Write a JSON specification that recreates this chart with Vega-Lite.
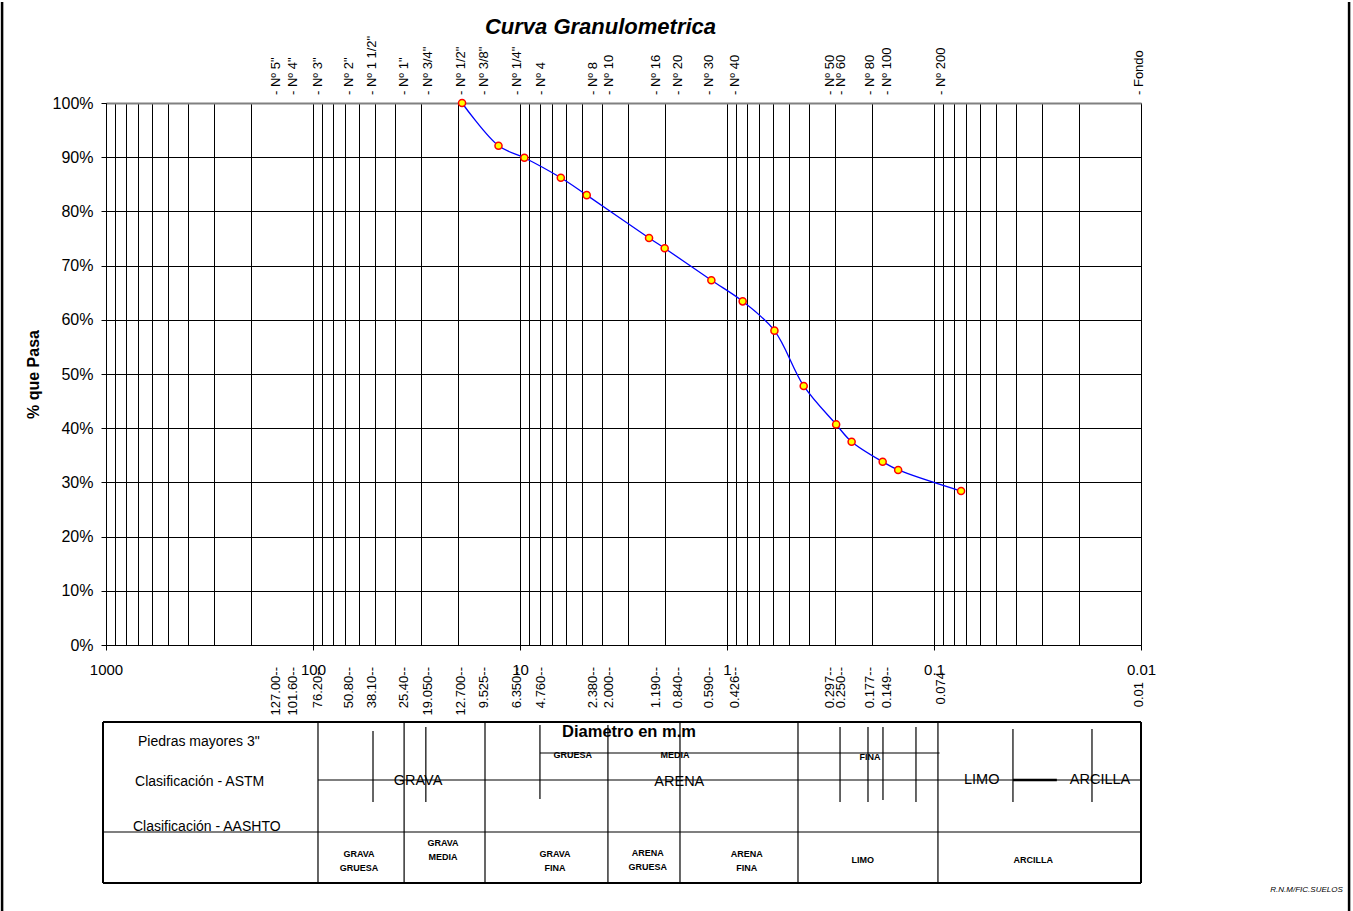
{
  "$schema": "https://vega.github.io/schema/vega-lite/v6.json",
  "padding": {"left": 0, "top": 0, "right": 2, "bottom": 0},
  "background": "white",
  "config": {"font": "Liberation Sans", "view": {"stroke": null}},
  "spacing": 77,
  "bounds": "flush",
  "resolve": {"scale": {"x": "independent", "y": "independent"}},
  "datasets": {
    "tamices": [
      {"tamiz": "- Nº 5\"", "abertura_txt": "127.00--", "abertura": 127.0, "pasa": null, "pos": 150.1},
      {"tamiz": "- Nº 4\"", "abertura_txt": "101.60--", "abertura": 101.6, "pasa": null, "pos": 124.9},
      {"tamiz": "- Nº 3\"", "abertura_txt": "76.20--", "abertura": 76.2, "pasa": null, "pos": 94.9},
      {"tamiz": "- Nº 2\"", "abertura_txt": "50.80--", "abertura": 50.8, "pasa": null, "pos": 66.9},
      {"tamiz": "- Nº 1 1/2\"", "abertura_txt": "38.10--", "abertura": 38.1, "pasa": null, "pos": 51.6},
      {"tamiz": "- Nº 1\"", "abertura_txt": "25.40--", "abertura": 25.4, "pasa": null, "pos": 36.3},
      {"tamiz": "- Nº 3/4\"", "abertura_txt": "19.050--", "abertura": 19.05, "pasa": 100, "pos": 27.9},
      {"tamiz": "- Nº 1/2\"", "abertura_txt": "12.700--", "abertura": 12.7, "pasa": 92.1, "pos": 19.3},
      {"tamiz": "- Nº 3/8\"", "abertura_txt": "9.525--", "abertura": 9.525, "pasa": 89.9, "pos": 14.93},
      {"tamiz": "- Nº 1/4\"", "abertura_txt": "6.350--", "abertura": 6.35, "pasa": 86.2, "pos": 10.35},
      {"tamiz": "- Nº 4", "abertura_txt": "4.760--", "abertura": 4.76, "pasa": 83.0, "pos": 7.9},
      {"tamiz": "- Nº 8", "abertura_txt": "2.380--", "abertura": 2.38, "pasa": 75.1, "pos": 4.42},
      {"tamiz": "- Nº 10", "abertura_txt": "2.000--", "abertura": 2.0, "pasa": 73.2, "pos": 3.7},
      {"tamiz": "- Nº 16", "abertura_txt": "1.190--", "abertura": 1.19, "pasa": 67.3, "pos": 2.2},
      {"tamiz": "- Nº 20", "abertura_txt": "0.840--", "abertura": 0.84, "pasa": 63.4, "pos": 1.717},
      {"tamiz": "- Nº 30", "abertura_txt": "0.590--", "abertura": 0.59, "pasa": 58.0, "pos": 1.219},
      {"tamiz": "- Nº 40", "abertura_txt": "0.426--", "abertura": 0.426, "pasa": 47.8, "pos": 0.91},
      {"tamiz": "- Nº 50", "abertura_txt": "0.297--", "abertura": 0.297, "pasa": 40.7, "pos": 0.318},
      {"tamiz": "- Nº 60", "abertura_txt": "0.250--", "abertura": 0.25, "pasa": 37.5, "pos": 0.2808},
      {"tamiz": "- Nº 80", "abertura_txt": "0.177--", "abertura": 0.177, "pasa": 33.8, "pos": 0.2049},
      {"tamiz": "- Nº 100", "abertura_txt": "0.149--", "abertura": 0.149, "pasa": 32.3, "pos": 0.1687},
      {"tamiz": "- Nº 200", "abertura_txt": "0.074", "abertura": 0.074, "pasa": 28.4, "pos": 0.0927},
      {"tamiz": "- Fondo", "abertura_txt": "0.01", "abertura": 0.01, "pasa": null, "pos": 0.01026}
    ],
    "tabla_lineas": [
      {"x1": 3177, "x2": 3177, "t1": -720, "t2": 200, "tipo": "borde"},
      {"x1": 0.000988, "x2": 0.000988, "t1": -720, "t2": 200, "tipo": "borde"},
      {"x1": 1034, "x2": 0.01, "t1": 0, "t2": 0, "tipo": "marco"},
      {"x1": 1034, "x2": 0.01, "t1": 161, "t2": 161, "tipo": "marco"},
      {"x1": 1034, "x2": 1034, "t1": 0, "t2": 161, "tipo": "marco"},
      {"x1": 0.01, "x2": 0.01, "t1": 0, "t2": 161, "tipo": "marco"},
      {"x1": 94.6, "x2": 0.01, "t1": 58, "t2": 58, "tipo": "interior"},
      {"x1": 1034, "x2": 0.01, "t1": 110, "t2": 110, "tipo": "interior"},
      {"x1": 8.01, "x2": 0.094, "t1": 31, "t2": 31, "tipo": "interior"},
      {"x1": 94.6, "x2": 94.6, "t1": 0, "t2": 161, "tipo": "interior"},
      {"x1": 51.3, "x2": 51.3, "t1": 9, "t2": 80, "tipo": "interior"},
      {"x1": 36.3, "x2": 36.3, "t1": 0, "t2": 161, "tipo": "interior"},
      {"x1": 28.5, "x2": 28.5, "t1": 5, "t2": 80, "tipo": "interior"},
      {"x1": 14.76, "x2": 14.76, "t1": 0, "t2": 161, "tipo": "interior"},
      {"x1": 8.01, "x2": 8.01, "t1": 3, "t2": 77, "tipo": "interior"},
      {"x1": 3.76, "x2": 3.76, "t1": 3, "t2": 161, "tipo": "interior"},
      {"x1": 1.687, "x2": 1.687, "t1": 0, "t2": 161, "tipo": "interior"},
      {"x1": 0.454, "x2": 0.454, "t1": 0, "t2": 161, "tipo": "interior"},
      {"x1": 0.2844, "x2": 0.2844, "t1": 5, "t2": 80, "tipo": "interior"},
      {"x1": 0.2084, "x2": 0.2084, "t1": 5, "t2": 80, "tipo": "interior"},
      {"x1": 0.1764, "x2": 0.1764, "t1": 5, "t2": 78, "tipo": "interior"},
      {"x1": 0.1222, "x2": 0.1222, "t1": 5, "t2": 80, "tipo": "interior"},
      {"x1": 0.0957, "x2": 0.0957, "t1": 0, "t2": 161, "tipo": "interior"},
      {"x1": 0.04155, "x2": 0.04155, "t1": 7, "t2": 80, "tipo": "interior"},
      {"x1": 0.01725, "x2": 0.01725, "t1": 7, "t2": 80, "tipo": "interior"},
      {"x1": 0.04155, "x2": 0.0255, "t1": 58, "t2": 58, "tipo": "acento"}
    ],
    "tabla_textos": [
      {"texto": "Piedras mayores 3\"", "x": 700.5, "t": 20, "tipo": "fila"},
      {"texto": "Clasificación - ASTM", "x": 724, "t": 60, "tipo": "fila"},
      {"texto": "Clasificación - AASHTO", "x": 740.6, "t": 105, "tipo": "fila"},
      {"texto": "GRAVA", "x": 31.1, "t": 59, "tipo": "grupo"},
      {"texto": "ARENA", "x": 1.7, "t": 60, "tipo": "grupo"},
      {"texto": "LIMO", "x": 0.0588, "t": 58, "tipo": "grupo"},
      {"texto": "ARCILLA", "x": 0.01578, "t": 58, "tipo": "grupo"},
      {"texto": "GRUESA", "x": 5.565, "t": 33, "tipo": "subgrupo"},
      {"texto": "MEDIA", "x": 1.783, "t": 33, "tipo": "subgrupo"},
      {"texto": "FINA", "x": 0.2038, "t": 34.5, "tipo": "subgrupo"},
      {"texto": "GRAVA\nGRUESA", "x": 59.96, "t": 131.8, "tipo": "aashto"},
      {"texto": "GRAVA\nMEDIA", "x": 23.55, "t": 121.4, "tipo": "aashto"},
      {"texto": "GRAVA\nFINA", "x": 6.776, "t": 131.8, "tipo": "aashto"},
      {"texto": "ARENA\nGRUESA", "x": 2.416, "t": 130.5, "tipo": "aashto"},
      {"texto": "ARENA\nFINA", "x": 0.803, "t": 131.8, "tipo": "aashto"},
      {"texto": "LIMO", "x": 0.221, "t": 138, "tipo": "aashto"},
      {"texto": "ARCILLA", "x": 0.03313, "t": 138, "tipo": "aashto"},
      {"texto": "R.N.M/FIC.SUELOS", "x": 0.00106, "t": 168, "tipo": "credito"}
    ]
  },
  "vconcat": [
    {
      "width": 1035,
      "height": 542,
      "title": {"text": "Curva Granulometrica", "fontSize": 22, "fontWeight": "bold", "fontStyle": "italic", "anchor": "middle", "frame": "group", "offset": -20, "baseline": "alphabetic", "dx": -23, "color": "#000"},
      "data": {"name": "tamices"},
      "resolve": {"axis": {"x": "independent"}},
      "layer": [
        {
          "transform": [{"filter": "datum.pasa != null"}],
          "mark": {"type": "line", "interpolate": "catmull-rom", "color": "#0000FF", "strokeWidth": 1.3},
          "encoding": {
            "x": {"field": "abertura", "type": "quantitative",
              "scale": {"type": "log", "domain": [0.01, 1000], "reverse": true, "nice": false},
              "axis": {"orient": "top", "values": [1000,900,800,700,600,500,400,300,200,100,90,80,70,60,50,40,30,20,10,9,8,7,6,5,4,3,2,1,0.9,0.8,0.7,0.6,0.5,0.4,0.3,0.2,0.1,0.09,0.08,0.07,0.06,0.05,0.04,0.03,0.02,0.01],
                "grid": true, "gridColor": "#000", "gridOpacity": 1, "gridWidth": 1, "ticks": false, "labels": false, "domain": true, "domainColor": "#808080", "domainWidth": 2, "title": null}},
            "y": {"field": "pasa", "type": "quantitative",
              "scale": {"domain": [0, 100], "nice": false},
              "axis": {"values": [0,10,20,30,40,50,60,70,80,90,100], "labelExpr": "datum.value + '%'", "grid": true, "gridColor": "#000", "gridOpacity": 1, "gridWidth": 1,
                "tickSize": 5, "tickColor": "#000", "domainColor": "#000", "labelFontSize": 16, "labelColor": "#000", "labelPadding": 8, "labelFlush": false, "labelOverlap": false,
                "title": "% que Pasa", "titleFontSize": 16, "titleFontWeight": "bold", "titleColor": "#000", "titleX": -73, "titleY": 271, "titleAngle": 270, "titleBaseline": "middle", "titleAlign": "center"}}
          }
        },
        {
          "transform": [{"filter": "datum.pasa != null"}],
          "mark": {"type": "point", "shape": "circle", "filled": true, "fill": "#FFFF00", "stroke": "#FF0000", "strokeWidth": 1.5, "size": 50, "opacity": 1},
          "encoding": {
            "x": {"field": "abertura", "type": "quantitative",
              "axis": {"orient": "bottom", "values": [1000, 100, 10, 1, 0.1, 0.01], "format": "~g", "grid": false, "tickSize": 5, "tickColor": "#000", "domainColor": "#000",
                "labelFontSize": 15, "labelColor": "#000", "labelPadding": 12, "labelFlush": false, "labelOverlap": false,
                "title": "Diametro en m.m", "titleFontSize": 16.5, "titleFontWeight": "bold", "titleColor": "#000", "titleX": 522.5, "titleY": 86, "titleBaseline": "middle", "titleAlign": "center"}},
            "y": {"field": "pasa", "type": "quantitative"}
          }
        },
        {
          "mark": {"type": "text", "angle": 270, "align": "left", "baseline": "middle", "dx": 8, "fontSize": 13, "color": "#000"},
          "encoding": {
            "x": {"field": "pos", "type": "quantitative", "axis": null},
            "y": {"datum": 100, "type": "quantitative"},
            "text": {"field": "tamiz"}
          }
        },
        {
          "transform": [{"filter": "datum.abertura > 0.08"}],
          "mark": {"type": "text", "angle": 270, "align": "right", "baseline": "middle", "dx": -22, "fontSize": 13, "color": "#000"},
          "encoding": {
            "x": {"field": "pos", "type": "quantitative", "axis": null},
            "y": {"datum": 0, "type": "quantitative"},
            "text": {"field": "abertura_txt"}
          }
        },
        {
          "transform": [{"filter": "datum.abertura == 0.074"}],
          "mark": {"type": "text", "angle": 270, "align": "right", "baseline": "middle", "dx": -27, "fontSize": 13, "color": "#000"},
          "encoding": {
            "x": {"field": "pos", "type": "quantitative", "axis": null},
            "y": {"datum": 0, "type": "quantitative"},
            "text": {"field": "abertura_txt"}
          }
        },
        {
          "transform": [{"filter": "datum.abertura == 0.01"}],
          "mark": {"type": "text", "angle": 270, "align": "right", "baseline": "middle", "dx": -37, "fontSize": 13, "color": "#000"},
          "encoding": {
            "x": {"field": "pos", "type": "quantitative", "axis": null},
            "y": {"datum": 0, "type": "quantitative"},
            "text": {"field": "abertura_txt"}
          }
        }
      ]
    },
    {
      "width": 1035,
      "height": 161,
      "encoding": {
        "x": {"type": "quantitative", "scale": {"type": "log", "domain": [0.01, 1000], "reverse": true, "nice": false}, "axis": null},
        "y": {"type": "quantitative", "scale": {"domain": [0, 161], "reverse": true, "nice": false, "zero": false}, "axis": null}
      },
      "layer": [
        {
          "data": {"name": "tabla_lineas"},
          "transform": [{"filter": "datum.tipo == 'borde'"}],
          "mark": {"type": "rule", "color": "#000", "strokeWidth": 2.5},
          "encoding": {"x": {"field": "x1", "type": "quantitative"}, "x2": {"field": "x2"}, "y": {"field": "t1", "type": "quantitative"}, "y2": {"field": "t2"}}
        },
        {
          "data": {"name": "tabla_lineas"},
          "transform": [{"filter": "datum.tipo == 'marco'"}],
          "mark": {"type": "rule", "color": "#000", "strokeWidth": 2},
          "encoding": {"x": {"field": "x1", "type": "quantitative"}, "x2": {"field": "x2"}, "y": {"field": "t1", "type": "quantitative"}, "y2": {"field": "t2"}}
        },
        {
          "data": {"name": "tabla_lineas"},
          "transform": [{"filter": "datum.tipo == 'interior'"}],
          "mark": {"type": "rule", "color": "#000", "strokeWidth": 1.2},
          "encoding": {"x": {"field": "x1", "type": "quantitative"}, "x2": {"field": "x2"}, "y": {"field": "t1", "type": "quantitative"}, "y2": {"field": "t2"}}
        },
        {
          "data": {"name": "tabla_lineas"},
          "transform": [{"filter": "datum.tipo == 'acento'"}],
          "mark": {"type": "rule", "color": "#000", "strokeWidth": 2.5},
          "encoding": {"x": {"field": "x1", "type": "quantitative"}, "x2": {"field": "x2"}, "y": {"field": "t1", "type": "quantitative"}, "y2": {"field": "t2"}}
        },
        {
          "data": {"name": "tabla_textos"},
          "transform": [{"filter": "datum.tipo == 'fila'"}],
          "mark": {"type": "text", "align": "left", "baseline": "middle", "fontSize": 14, "color": "#000"},
          "encoding": {"x": {"field": "x", "type": "quantitative"}, "y": {"field": "t", "type": "quantitative"}, "text": {"field": "texto"}}
        },
        {
          "data": {"name": "tabla_textos"},
          "transform": [{"filter": "datum.tipo == 'grupo'"}],
          "mark": {"type": "text", "align": "center", "baseline": "middle", "fontSize": 14.5, "color": "#000"},
          "encoding": {"x": {"field": "x", "type": "quantitative"}, "y": {"field": "t", "type": "quantitative"}, "text": {"field": "texto"}}
        },
        {
          "data": {"name": "tabla_textos"},
          "transform": [{"filter": "datum.tipo == 'subgrupo' || datum.tipo == 'aashto'"}],
          "mark": {"type": "text", "align": "center", "baseline": "middle", "fontSize": 9, "fontWeight": "bold", "lineBreak": "\n", "lineHeight": 14, "color": "#000"},
          "encoding": {"x": {"field": "x", "type": "quantitative"}, "y": {"field": "t", "type": "quantitative"}, "text": {"field": "texto"}}
        },
        {
          "data": {"name": "tabla_textos"},
          "transform": [{"filter": "datum.tipo == 'credito'"}],
          "mark": {"type": "text", "align": "right", "baseline": "middle", "fontSize": 8, "fontStyle": "italic", "color": "#000"},
          "encoding": {"x": {"field": "x", "type": "quantitative"}, "y": {"field": "t", "type": "quantitative"}, "text": {"field": "texto"}}
        }
      ]
    }
  ]
}
